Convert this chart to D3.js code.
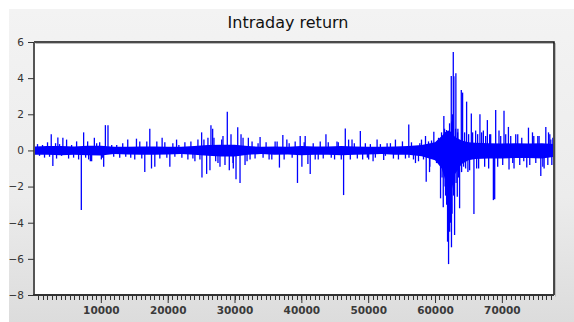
<!DOCTYPE html>
<html>
<head>
<meta charset="utf-8">
<script src="https://cdn.jsdelivr.net/npm/d3@7"></script>
<style>
  body { margin: 0; background: #fff; }
  svg { display: block; }
</style>
</head>
<body>
<svg width="574" height="322"></svg>
<script>
// dense noise core, read per bin (observation index, upper and lower edge)
const bandIdx = [0, 2000, 4000, 6000, 8000, 10000, 12000, 14000, 16000, 18000,
  20000, 22000, 24000, 26000, 28000, 30000, 32000, 34000, 36000, 38000,
  40000, 42000, 44000, 46000, 48000, 50000, 52000, 54000, 56000, 58000,
  60000, 61000, 61500, 62000, 62500, 63000, 64000, 65000, 66000, 68000,
  70000, 72000, 74000, 76000, 77800];
const bandHi = [0.22, 0.24, 0.24, 0.22, 0.26, 0.26, 0.2, 0.2, 0.22, 0.22,
  0.2, 0.2, 0.24, 0.3, 0.32, 0.32, 0.24, 0.2, 0.22, 0.2,
  0.24, 0.22, 0.22, 0.24, 0.22, 0.2, 0.2, 0.22, 0.24, 0.3,
  0.45, 0.8, 1.0, 1.1, 1.0, 0.75, 0.55, 0.45, 0.42, 0.4,
  0.38, 0.4, 0.38, 0.4, 0.35];
const bandLo = [-0.24, -0.24, -0.26, -0.24, -0.26, -0.28, -0.2, -0.22, -0.24, -0.24,
  -0.22, -0.2, -0.24, -0.3, -0.34, -0.34, -0.24, -0.2, -0.24, -0.22,
  -0.26, -0.24, -0.24, -0.26, -0.24, -0.22, -0.2, -0.24, -0.24, -0.32,
  -0.55, -1.0, -1.6, -2.0, -2.2, -1.3, -0.75, -0.55, -0.48, -0.45,
  -0.45, -0.42, -0.42, -0.45, -0.35];

// isolated large returns (observation index, value)
const spikeIdx = [2580, 2820, 3570, 4320, 7080, 7425, 7725, 8430, 9030, 10080,
  10425, 10680, 11070, 15075, 15330, 16575, 17325, 17580, 18075, 19170,
  20325, 21330, 24075, 25080, 25130, 25830, 26325, 26475, 26730, 27180,
  27825, 28080, 28920, 29220, 29820, 30225, 30480, 30825, 30975, 31575,
  32070, 32325, 33825, 35580, 36720, 37230, 37830, 39420, 39825, 40080,
  40575, 40980, 41325, 42075, 43680, 44970, 45330, 46320, 46575, 47070,
  47580, 48825, 49170, 50070, 50730, 51330, 52320, 52830, 54075, 56070,
  56100, 57075, 57720, 58575, 58680, 59175, 59220, 59820, 60825, 61230,
  61320, 61725, 61875, 62025, 62175, 62430, 62460, 62730, 62820, 62925,
  63120, 63330, 63420, 63675, 63930, 64125, 64275, 64725, 64920, 65430,
  65820, 66075, 66525, 66720, 67230, 67830, 68325, 68730, 68925, 69075,
  69570, 70320, 70980, 71070, 71820, 72075, 73725, 73980, 74580, 75570,
  75825, 76320, 76575, 76980, 77325];
const spikeVal = [0.9, -0.86, 0.72, 0.7, -3.3, 1.0, -0.4, -0.6, 0.7, -0.5,
  -0.9, 1.4, 1.4, -0.5, 0.65, -1.2, 1.2, -1.0, -0.9, 0.7,
  -0.9, 0.6, -0.6, 1.0, -1.5, -1.3, -1.1, 1.4, 1.2, -0.6,
  -0.9, 0.6, 2.14, -1.1, -1.0, -1.6, 1.28, -1.8, 0.9, -0.8,
  0.7, -0.5, 0.75, -0.5, -0.95, 0.85, 0.6, -1.8, 0.8, -0.9,
  0.8, -0.75, -1.3, -0.5, 0.9, -0.5, 0.5, -2.47, 1.22, 0.6,
  0.6, 1.07, -0.5, -0.5, -0.6, 0.6, -0.53, 0.4, 0.6, 1.44,
  -0.4, -0.7, 0.4, 0.8, -1.73, -1.2, -0.9, 1.04, -2.65, -3.15,
  1.9, 1.13, -5.05, -6.29, 1.5, 4.12, -5.36, 5.45, 4.1, -4.68,
  4.27, -2.56, 1.2, -3.2, 3.34, 3.2, -0.9, 2.7, -1.2, 2.05,
  -3.52, 1.1, -1.0, 2.0, 1.1, 1.68, 0.9, -2.75, -2.7, 2.24,
  1.1, 2.2, 1.3, -1.05, -1.0, 0.9, -0.95, 1.26, 1.0, 0.8,
  -1.42, -1.0, 1.3, 1.0, 0.6];

// smaller returns that give the band its ragged edge
const smallIdx = [525, 825, 1275, 1575, 2025, 2325, 3225, 3375, 3825, 4125,
  4875, 5175, 5625, 5925, 6375, 6675, 8025, 8175, 8625, 9375,
  9825, 10275, 11625, 11925, 12375, 12825, 13275, 13725, 14025, 14475,
  15825, 16125, 16875, 18375, 18825, 19575, 19875, 20775, 21075, 21675,
  22125, 22575, 23025, 23475, 23775, 24525, 24825, 25425, 26025, 26925,
  27525, 28275, 28575, 29475, 29775, 31275, 31875, 32625, 33075, 33525,
  34275, 34725, 35175, 36075, 36375, 37425, 38175, 38625, 39075, 40425,
  41775, 42525, 42825, 43275, 44025, 44475, 45525, 45975, 47325, 47925,
  48375, 49575, 49875, 50325, 51075, 51825, 52575, 53325, 53775, 54525,
  55125, 55575, 56475, 56775, 57525, 57975, 58275, 59025, 59475, 60225,
  60525, 60975, 61050, 61425, 61500, 61575, 61740, 61890, 62040, 62190,
  62325, 62475, 62550, 62625, 62775, 63075, 63150, 63375, 63525, 63975,
  64425, 64575, 65025, 65175, 65625, 66225, 66375, 66975, 67425, 67575,
  68025, 68175, 69375, 69825, 70125, 70575, 71325, 71625, 72375, 72675,
  72975, 73275, 74175, 74775, 75075, 75375, 76125, 76875, 77175, 77475, 77625];
const smallVal = [0.35, -0.3, 0.3, -0.4, 0.45, -0.35, 0.4, -0.45, 0.35, -0.3,
  0.6, -0.45, 0.3, -0.4, 0.5, -0.5, 0.5, -0.5, -0.6, 0.4,
  0.45, -0.4, 0.3, -0.35, 0.3, -0.4, 0.4, -0.35, 0.6, -0.4,
  0.5, -0.45, 0.5, 0.5, -0.45, 0.45, -0.4, 0.4, -0.35, 0.3,
  -0.4, 0.45, -0.5, 0.5, -0.45, 0.6, -0.5, 0.6, 0.7, 0.7,
  -0.7, 0.8, -0.8, 0.9, -0.7, 0.7, -0.6, 0.5, -0.45, 0.4,
  -0.4, 0.45, -0.5, 0.5, 0.5, -0.5, 0.4, -0.4, 0.5, 0.45,
  0.4, -0.5, 0.5, -0.45, 0.45, -0.4, 0.45, -0.5, -0.5, 0.4,
  -0.45, 0.4, -0.4, 0.35, -0.4, 0.35, -0.3, 0.4, -0.45, -0.5,
  0.5, -0.45, 0.45, -0.5, -0.6, 0.6, -0.5, 0.5, 0.55, -0.7,
  0.7, 1.0, -1.5, 1.2, -2.0, -2.5, -3.0, 1.0, -4.0, -4.5,
  -4.0, 1.6, -3.5, 2.0, -2.5, 1.2, -1.8, 1.0, -1.5, -1.2,
  1.0, -1.0, 0.9, -1.1, 1.0, -1.0, 0.9, 1.0, -0.9, 0.8,
  -1.0, 0.9, -0.9, 0.8, -0.8, 0.9, 0.8, -0.7, 0.9, -0.8,
  0.7, -0.6, -0.8, 0.8, -0.7, 0.8, -0.9, -0.8, 0.9, -0.8, 0.7];

const yTicks = [-8, -6, -4, -2, 0, 2, 4, 6];
const xTicks = [10000, 20000, 30000, 40000, 50000, 60000, 70000];

const band = bandIdx.map((d, i) => ({ idx: d, hi: bandHi[i], lo: bandLo[i] }));
const spikes = spikeIdx.map((d, i) => ({ idx: d, v: spikeVal[i] }))
  .concat(smallIdx.map((d, i) => ({ idx: d, v: smallVal[i] })));

const svg = d3.select('svg');
const margin = { top: 42, right: 20, bottom: 27, left: 34 };
const plotW = 574 - margin.left - margin.right;
const plotH = 322 - margin.top - margin.bottom;

const defs = svg.append('defs');
const grad = defs.append('linearGradient')
  .attr('id', 'bg').attr('x1', 0).attr('y1', 0).attr('x2', 0).attr('y2', 1);
grad.append('stop').attr('offset', '0%').attr('stop-color', '#f3f3f3');
grad.append('stop').attr('offset', '60%').attr('stop-color', '#ececec');
grad.append('stop').attr('offset', '100%').attr('stop-color', '#dcdcdc');

svg.append('rect')
  .attr('x', 9).attr('y', 9)
  .attr('width', 565).attr('height', 313)
  .attr('fill', 'url(#bg)');

const xScale = d3.scaleLinear()
  .domain([0, 77800])
  .range([margin.left, margin.left + plotW]);

const yScale = d3.scaleLinear()
  .domain([-8, 6])
  .range([margin.top + plotH, margin.top]);

// plot area
svg.append('rect')
  .attr('x', margin.left).attr('y', margin.top)
  .attr('width', plotW).attr('height', plotH)
  .attr('fill', '#fff');

defs.append('clipPath').attr('id', 'clip')
  .append('rect')
    .attr('x', margin.left + 1).attr('y', margin.top + 1)
    .attr('width', plotW - 2).attr('height', plotH - 2);

const g = svg.append('g').attr('clip-path', 'url(#clip)');

const area = d3.area()
  .x(d => xScale(d.idx))
  .y0(d => yScale(d.lo))
  .y1(d => yScale(d.hi));

g.append('path')
  .datum(band)
  .attr('d', area)
  .attr('fill', '#0000ff');

g.selectAll('line.spike').data(spikes)
  .enter().append('line')
    .attr('class', 'spike')
    .attr('x1', d => xScale(d.idx))
    .attr('x2', d => xScale(d.idx))
    .attr('y1', yScale(0))
    .attr('y2', d => yScale(d.v))
    .attr('stroke', '#0000ff')
    .attr('stroke-width', 1.3);

// frame: top and right dark, with a soft shadow
svg.append('path')
  .attr('d', `M${margin.left},${margin.top}H${margin.left + plotW}V${margin.top + plotH}`)
  .attr('fill', 'none')
  .attr('stroke', '#bbb')
  .attr('stroke-width', 1)
  .attr('transform', 'translate(1.5,1.5)');
svg.append('path')
  .attr('d', `M${margin.left},${margin.top}H${margin.left + plotW}V${margin.top + plotH}`)
  .attr('fill', 'none')
  .attr('stroke', '#111')
  .attr('stroke-width', 1.5);

// y axis
const yAxis = d3.axisLeft(yScale)
  .tickValues(yTicks)
  .tickSize(6)
  .tickPadding(4)
  .tickFormat(d3.format('d'));

const yAxisG = svg.append('g')
  .attr('transform', `translate(${margin.left},0)`)
  .call(yAxis);
yAxisG.select('.domain')
  .attr('stroke', '#555')
  .attr('stroke-width', 2)
  .attr('d', `M0,${margin.top}V${margin.top + plotH + 1}`);
yAxisG.selectAll('.tick line').attr('stroke', '#333');
yAxisG.selectAll('text')
  .style('font', '10.5px "DejaVu Sans"')
  .attr('fill', '#333');

// x axis: minor ticks every 10000/15
const minor = d3.range(0, 77800, 10000 / 15).filter(d => d > 0);
const xAxisG = svg.append('g')
  .attr('transform', `translate(0,${margin.top + plotH})`);
xAxisG.selectAll('line.minor').data(minor)
  .enter().append('line')
    .attr('class', 'minor')
    .attr('x1', d => Math.round(xScale(d)) + 0.5)
    .attr('x2', d => Math.round(xScale(d)) + 0.5)
    .attr('y1', 0).attr('y2', 5)
    .attr('stroke', '#333');

const xAxis = d3.axisBottom(xScale)
  .tickValues(xTicks)
  .tickSize(8)
  .tickPadding(4)
  .tickFormat(d3.format('d'));
xAxisG.call(xAxis);
xAxisG.select('.domain')
  .attr('stroke', '#333')
  .attr('stroke-width', 2)
  .attr('d', `M${margin.left - 1},0H${margin.left + plotW}`);
xAxisG.selectAll('.tick line').attr('stroke', '#333');
xAxisG.selectAll('text')
  .style('font', 'bold 10.5px "DejaVu Sans"')
  .attr('fill', '#3a3a3a');

// title
svg.append('text')
  .attr('x', 288).attr('y', 28)
  .attr('text-anchor', 'middle')
  .style('font', '16px "DejaVu Sans"')
  .attr('fill', '#111')
  .text('Intraday return');
</script>
</body>
</html>
